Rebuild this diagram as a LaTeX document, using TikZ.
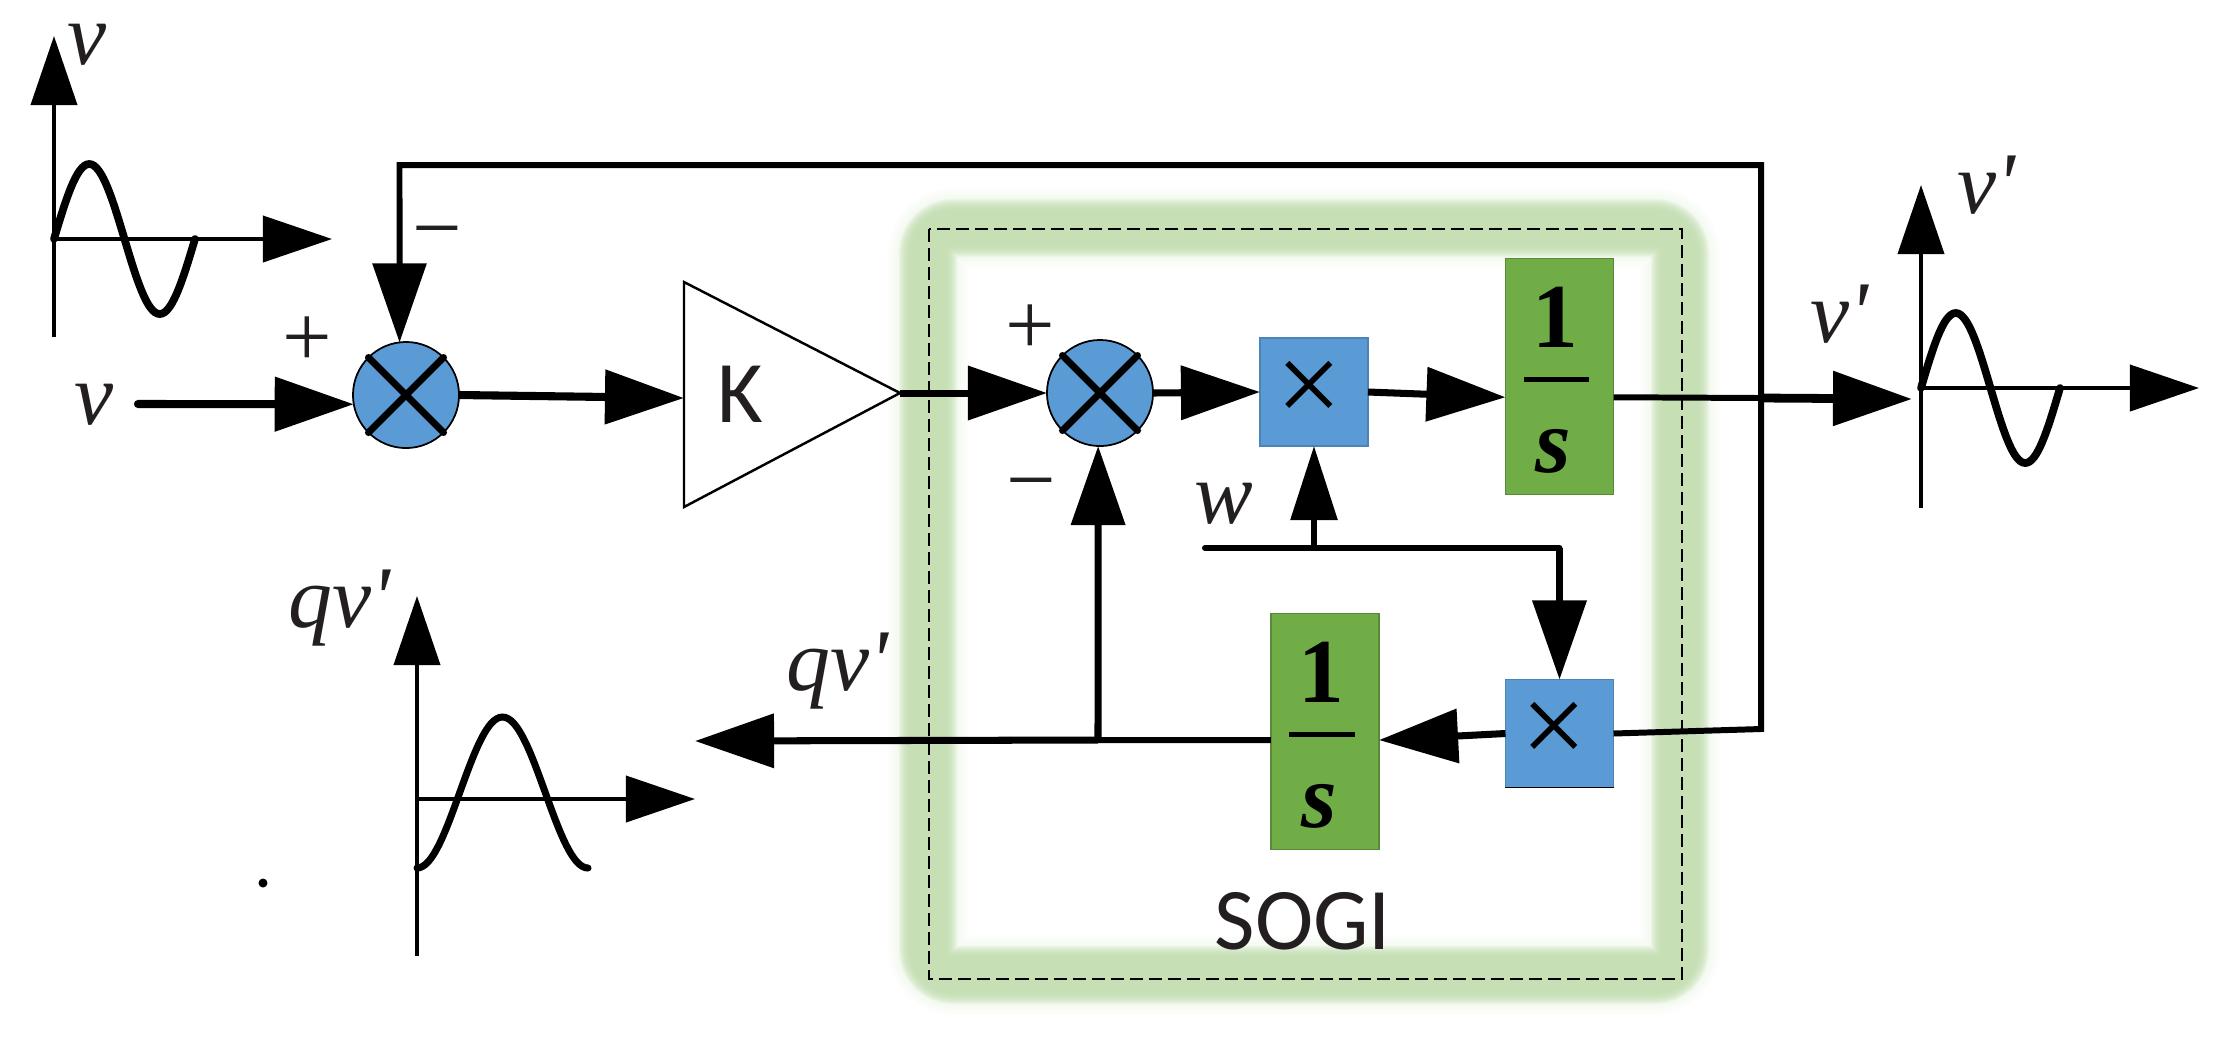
\documentclass[tikz,border=0pt]{standalone}
\usepackage{fontspec}
\setmainfont[Ligatures=TeXOff]{Liberation Serif}
\newfontfamily\blocksans{Carlito}
\usetikzlibrary{arrows.meta}
\definecolor{blockblue}{HTML}{5B9BD5}
\definecolor{blockgreen}{HTML}{70AD47}
\definecolor{glowgreen}{HTML}{BEDBAB}
\definecolor{inkblack}{HTML}{231F20}
\newcommand{\mulsign}{\fontsize{33}{33}\selectfont\raisebox{-0.07cm}{×}\hspace*{0.1cm}}
\tikzset{
  sig/.style={line width=2pt,-{Triangle[length=0.79cm,width=0.53cm]}},
  smallsig/.style={line width=1.7pt,-{Triangle[length=0.74cm,width=0.46cm]}},
  wire/.style={line width=1.7pt},
  axis/.style={line width=1.1pt,-{Triangle[length=0.69cm,width=0.46cm]}},
  wave/.style={line width=2.2pt,line cap=round,smooth},
  lbl/.style={inner sep=0,text=inkblack,font=\fontsize{25}{30}\selectfont\itshape},
  signlbl/.style={inner sep=0,text=inkblack,font=\fontsize{25}{30}\selectfont},
  sanslbl/.style={inner sep=0,text=inkblack,font=\fontsize{25}{30}\selectfont\blocksans},
  sumnode/.style={circle,draw=black,line width=0.5pt,fill=blockblue,minimum size=1.06cm,inner sep=0,outer sep=0},
  cross/.style={line width=2pt,line cap=round},
  mulblock/.style={rectangle,fill=blockblue,draw=blockblue!85!black,line width=0.4pt,minimum width=1.08cm,minimum height=1.08cm,inner sep=0,outer sep=0},
  intblock/.style={rectangle,fill=blockgreen,draw=blockgreen!80!black,line width=0.4pt,minimum width=1.08cm,minimum height=2.36cm,inner sep=0,outer sep=0},
  fracnum/.style={inner sep=0,font=\fontsize{26}{30}\selectfont\bfseries},
  fracden/.style={inner sep=0,font=\fontsize{26}{30}\selectfont\bfseries\itshape},
  fracbar/.style={rectangle,fill=black,minimum width=0.65cm,minimum height=0.045cm,inner sep=0},
  glow/.style={draw=glowgreen,rounded corners=0.25cm},
  dashbox/.style={line width=0.7pt,dash pattern=on 0.13cm off 0.06cm}
}
\begin{document}
\begin{tikzpicture}[x=0.01cm,y=-0.01cm]
  \useasboundingbox (0,0) rectangle (2229,1038);
  %sogi frame
  \coordinate (sogiNW) at (929,229);
  \coordinate (sogiSE) at (1682,979);
  \coordinate (glowNW) at (928,228);
  \coordinate (glowSE) at (1680,975);
  \foreach \w in {80,76,...,60}
      \draw[glow,opacity=0.03,line width=\w*0.01cm] (glowNW) rectangle (glowSE);
  \foreach \w in {58,56,...,36}
      \draw[glow,opacity=0.15,line width=\w*0.01cm] (glowNW) rectangle (glowSE);
  \draw[dashbox] (sogiNW) rectangle (sogiSE);

  %axes of the three small plots
  \foreach \ox/\oy/\down in {54/239/98, 1921/388/120, 417/799/157} {
      \draw[axis] (\ox,\oy+\down) -- (\ox,\oy-203);
      \draw[axis] (\ox,\oy) -- (\ox+278,\oy);
  }
  %curves
  \foreach \ox/\oy/\len in {54/239/141, 1921/388/139}
      \draw[wave,domain=0:360,samples=61]
          plot ({\ox+\x/360*\len},{\oy-75*sin(\x)});
  \draw[wave,line width=2pt,domain=0:360,samples=61]
      plot ({417+\x/360*171},{868-151*(1-cos(\x))/2});

  %blocks
  \node[sumnode] (sumA) at (406,395) {};
  \node[sumnode] (sumB) at (1100,393) {};
  \node[mulblock] (mulA) at (1314,392) {\mulsign};
  \node[mulblock] (mulB) at (1559.5,733.5) {\mulsign};
  \node[intblock] (intA) at (1559.5,376.5) {};
  \node[intblock] (intB) at (1325,731.5) {};
  \draw[line width=0.5pt] (mulB.south west) -- (mulB.south east);
  \foreach \n in {sumA,sumB} {
      \draw[cross] (\n.45) -- (\n.225);
      \draw[cross] (\n.135) -- (\n.-45);
  }
  \foreach \n in {intA,intB} {
      \node[fracnum] (\n one) at ([shift={(-4,-59)}]\n.center) {1};
      \node[fracbar] (\n bar) at ([shift={(-3,3)}]\n.center) {};
      \node[fracden] (\n den) at ([shift={(-6,75)}]\n.center) {s};
  }
  %gain
  \coordinate (kTop) at (684,282);
  \coordinate (kBot) at (684,507);
  \coordinate (kOut) at (900,393);
  \coordinate (kIn) at (684,398);
  \draw[line width=0.7pt] (kTop) -- (kOut) -- (kBot) -- cycle;
  \node[sanslbl] (kText) at (740,394) {K};

  %free ends and corners
  \coordinate (vIn) at (138,404);
  \coordinate (vOut) at (1912,399);
  \coordinate (qOut) at (695,741);
  \coordinate (jOut) at (1761,398);
  \coordinate (fbLow) at (1761,729);
  \coordinate (fbTopR) at (1761,165);
  \coordinate (fbTopL) at (399.5,165);
  \coordinate (wIn) at (1205,548);
  \coordinate (wUp) at (1314,548);
  \coordinate (wDown) at (1559.5,548);
  \coordinate (jQ) at (1098,740);

  %connectors
  \draw[sig,line width=2.3pt,line cap=round] (vIn) -- (sumA.190);
  \draw[sig,line width=2.3pt] (sumA.east) -- (kIn);
  \draw[sig] (kOut) -- (sumB.west);
  \draw[sig] (sumB.east) -- (mulA.west);
  \draw[sig] (mulA.east) -- (intA.201.5);
  \draw[wire] (intA.-21.5) -- (jOut);
  \draw[sig,line width=2.5pt] (jOut) -- (vOut);
  \draw[wire] (mulB.east) -- (fbLow) -- (jOut);
  \draw[sig,line width=1.7pt,line join=miter] (jOut) -- (fbTopR) -- (fbTopL) -- (sumA.97);
  \draw[sig] (mulB.west) -- (intB.-9);
  \draw[wire] (intB.189) -- (jQ);
  \draw[sig] (jQ) -- (qOut);
  \draw[sig] (jQ) -- (sumB.-92);
  \draw[wire,line cap=round] (wIn) -- (wDown);
  \draw[sig] (wDown) -- (mulB.north);
  \draw[smallsig] (wUp) -- (mulA.south);

  %labels
  \node[lbl] (vTop) at (87,45) {v};
  \node[lbl] (vLeft) at (94,405) {v};
  \node[lbl] (vpTop) at (1986,185) {v'};
  \node[lbl] (vpMid) at (1839,314) {v'};
  \node[lbl] (qTop) at (339,608) {qv'};
  \node[lbl] (qMid) at (837,671) {qv'};
  \node[lbl] (wLbl) at (1224,504) {w};
  \node[signlbl] (plusA) at (307,342) {+};
  \node[signlbl] (minusA) at (437,242) {−};
  \node[signlbl] (plusB) at (1030,330) {+};
  \node[signlbl] (minusB) at (1031,494) {−};
  \node[sanslbl] (sogiLbl) at (1303,921) {SOGI};
  \node[circle,fill=black,minimum size=0.09cm,inner sep=0] (dot) at (263,883) {};
\end{tikzpicture}
\end{document}
